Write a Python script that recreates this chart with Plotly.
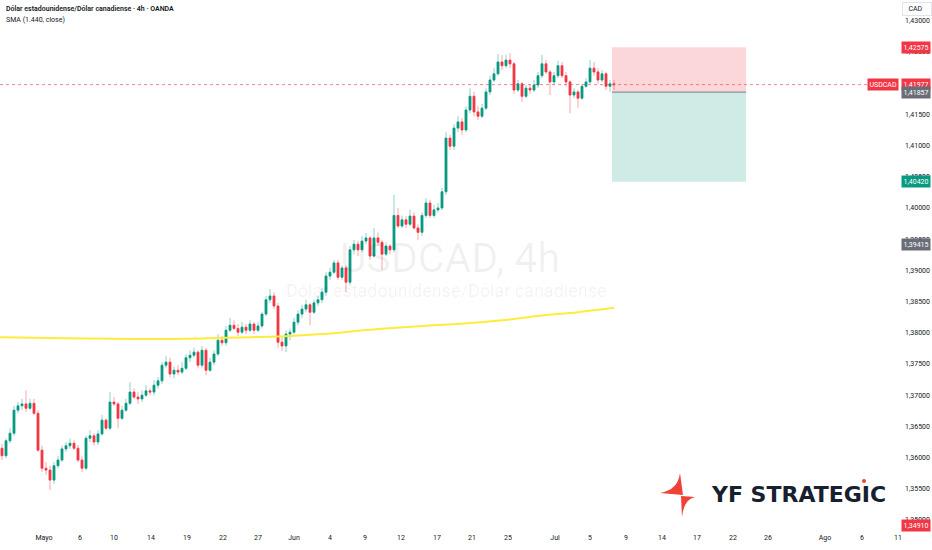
import plotly.graph_objects as go

# USDCAD 4h candles (left to right)
opens = [1.3615, 1.3603, 1.3627, 1.3639, 1.3676, 1.3683, 1.3686, 1.3679, 1.3687, 1.3671,
         1.3612, 1.3583, 1.3580, 1.3564, 1.3587, 1.3596, 1.3614, 1.3619, 1.3623, 1.3615,
         1.3596, 1.3583, 1.3631, 1.3635, 1.3625, 1.3638, 1.3660, 1.3647, 1.3689, 1.3686,
         1.3663, 1.3676, 1.3687, 1.3705, 1.3697, 1.3694, 1.3700, 1.3707, 1.3705, 1.3716,
         1.3723, 1.3748, 1.3753, 1.3734, 1.3740, 1.3737, 1.3743, 1.3760, 1.3764, 1.3769,
         1.3748, 1.3772, 1.3740, 1.3753, 1.3766, 1.3788, 1.3784, 1.3804, 1.3812, 1.3807,
         1.3801, 1.3809, 1.3804, 1.3814, 1.3804, 1.3811, 1.3830, 1.3853, 1.3859, 1.3843,
         1.3785, 1.3779, 1.3798, 1.3801, 1.3817, 1.3830, 1.3838, 1.3845, 1.3833, 1.3848,
         1.3853, 1.3865, 1.3891, 1.3897, 1.3912, 1.3889, 1.3904, 1.3881, 1.3933, 1.3942,
         1.3933, 1.3947, 1.3952, 1.3923, 1.3952, 1.3945, 1.3926, 1.3939, 1.3933, 1.3988,
         1.3971, 1.3981, 1.3974, 1.3987, 1.3968, 1.3961, 1.3988, 1.4008, 1.3988, 1.3997,
         1.4000, 1.4026, 1.4112, 1.4099, 1.4128, 1.4138, 1.4125, 1.4157, 1.4179, 1.4154,
         1.4147, 1.4160, 1.4186, 1.4205, 1.4215, 1.4234, 1.4228, 1.4237, 1.4231, 1.4189,
         1.4199, 1.4179, 1.4192, 1.4189, 1.4197, 1.4212, 1.4231, 1.4218, 1.4202, 1.4212,
         1.4228, 1.4212, 1.4202, 1.4181, 1.4186, 1.4176, 1.4195, 1.4202, 1.4224, 1.4218,
         1.4205, 1.4215, 1.4195, 1.4199]
highs = [1.3622, 1.3631, 1.3647, 1.3683, 1.3689, 1.3694, 1.3708, 1.3694, 1.3694, 1.3676,
         1.3619, 1.3593, 1.3587, 1.3593, 1.3603, 1.3619, 1.3625, 1.3631, 1.3628, 1.3620,
         1.3603, 1.3635, 1.3644, 1.3639, 1.3644, 1.3668, 1.3663, 1.3705, 1.3697, 1.3689,
         1.3683, 1.3694, 1.3721, 1.3711, 1.3705, 1.3708, 1.3716, 1.3711, 1.3724, 1.3729,
         1.3753, 1.3763, 1.3760, 1.3746, 1.3748, 1.3753, 1.3766, 1.3772, 1.3776, 1.3772,
         1.3779, 1.3776, 1.3760, 1.3772, 1.3798, 1.3795, 1.3811, 1.3824, 1.3820, 1.3814,
         1.3817, 1.3814, 1.3820, 1.3817, 1.3817, 1.3833, 1.3859, 1.3870, 1.3865, 1.3848,
         1.3795, 1.3804, 1.3807, 1.3824, 1.3836, 1.3845, 1.3853, 1.3848, 1.3853, 1.3859,
         1.3872, 1.3897, 1.3904, 1.3917, 1.3917, 1.3908, 1.3908, 1.3939, 1.3949, 1.3947,
         1.3955, 1.3960, 1.3955, 1.3968, 1.3961, 1.3949, 1.3945, 1.3942, 1.4021, 1.4000,
         1.3988, 1.3987, 1.3997, 1.3993, 1.3974, 1.3993, 1.4016, 1.4013, 1.4005, 1.4008,
         1.4032, 1.4122, 1.4117, 1.4134, 1.4147, 1.4144, 1.4163, 1.4192, 1.4186, 1.4163,
         1.4167, 1.4192, 1.4212, 1.4224, 1.4247, 1.4245, 1.4245, 1.4248, 1.4234, 1.4205,
         1.4202, 1.4197, 1.4199, 1.4205, 1.4218, 1.4245, 1.4237, 1.4221, 1.4218, 1.4236,
         1.4234, 1.4218, 1.4205, 1.4192, 1.4189, 1.4199, 1.4208, 1.4237, 1.4234, 1.4224,
         1.4221, 1.4218, 1.4205, 1.4205]
lows = [1.3596, 1.3599, 1.3623, 1.3635, 1.3671, 1.3676, 1.3673, 1.3676, 1.3668, 1.3609,
        1.3577, 1.3572, 1.3548, 1.3558, 1.3583, 1.3593, 1.3609, 1.3614, 1.3612, 1.3593,
        1.3577, 1.3580, 1.3625, 1.3619, 1.3620, 1.3635, 1.3644, 1.3644, 1.3683, 1.3647,
        1.3660, 1.3673, 1.3684, 1.3694, 1.3686, 1.3689, 1.3697, 1.3700, 1.3700, 1.3711,
        1.3718, 1.3743, 1.3729, 1.3727, 1.3732, 1.3734, 1.3740, 1.3753, 1.3760, 1.3743,
        1.3743, 1.3732, 1.3737, 1.3748, 1.3763, 1.3779, 1.3779, 1.3801, 1.3804, 1.3795,
        1.3798, 1.3798, 1.3801, 1.3798, 1.3801, 1.3807, 1.3827, 1.3848, 1.3838, 1.3776,
        1.3771, 1.3769, 1.3788, 1.3798, 1.3812, 1.3824, 1.3833, 1.3812, 1.3830, 1.3843,
        1.3848, 1.3859, 1.3885, 1.3894, 1.3885, 1.3885, 1.3865, 1.3876, 1.3926, 1.3923,
        1.3929, 1.3942, 1.3917, 1.3920, 1.3939, 1.3901, 1.3923, 1.3926, 1.3929, 1.3968,
        1.3968, 1.3968, 1.3971, 1.3965, 1.3949, 1.3955, 1.3984, 1.3984, 1.3984, 1.3993,
        1.3997, 1.4021, 1.4093, 1.4093, 1.4122, 1.4117, 1.4122, 1.4152, 1.4147, 1.4141,
        1.4144, 1.4157, 1.4181, 1.4202, 1.4212, 1.4221, 1.4224, 1.4224, 1.4183, 1.4186,
        1.4170, 1.4176, 1.4183, 1.4186, 1.4192, 1.4208, 1.4215, 1.4181, 1.4197, 1.4208,
        1.4208, 1.4195, 1.4152, 1.4176, 1.4160, 1.4173, 1.4192, 1.4199, 1.4212, 1.4199,
        1.4202, 1.4189, 1.4186, 1.4189]
closes = [1.3603, 1.3627, 1.3639, 1.3676, 1.3683, 1.3686, 1.3679, 1.3687, 1.3671, 1.3612,
          1.3583, 1.3580, 1.3564, 1.3587, 1.3596, 1.3614, 1.3619, 1.3623, 1.3615, 1.3596,
          1.3583, 1.3631, 1.3635, 1.3625, 1.3638, 1.3660, 1.3647, 1.3689, 1.3686, 1.3663,
          1.3676, 1.3687, 1.3705, 1.3697, 1.3694, 1.3700, 1.3707, 1.3705, 1.3716, 1.3723,
          1.3748, 1.3753, 1.3734, 1.3740, 1.3737, 1.3743, 1.3760, 1.3764, 1.3769, 1.3748,
          1.3772, 1.3740, 1.3753, 1.3766, 1.3788, 1.3784, 1.3804, 1.3812, 1.3807, 1.3801,
          1.3809, 1.3804, 1.3814, 1.3804, 1.3811, 1.3830, 1.3853, 1.3859, 1.3843, 1.3785,
          1.3779, 1.3798, 1.3801, 1.3817, 1.3830, 1.3838, 1.3845, 1.3833, 1.3848, 1.3853,
          1.3865, 1.3891, 1.3897, 1.3912, 1.3889, 1.3904, 1.3881, 1.3933, 1.3942, 1.3933,
          1.3947, 1.3952, 1.3923, 1.3952, 1.3945, 1.3926, 1.3939, 1.3933, 1.3988, 1.3971,
          1.3981, 1.3974, 1.3987, 1.3968, 1.3961, 1.3988, 1.4008, 1.3988, 1.3997, 1.4000,
          1.4026, 1.4112, 1.4099, 1.4128, 1.4138, 1.4125, 1.4157, 1.4179, 1.4154, 1.4147,
          1.4160, 1.4186, 1.4205, 1.4215, 1.4234, 1.4228, 1.4237, 1.4231, 1.4189, 1.4199,
          1.4179, 1.4192, 1.4189, 1.4197, 1.4212, 1.4231, 1.4218, 1.4202, 1.4212, 1.4228,
          1.4212, 1.4202, 1.4181, 1.4186, 1.4176, 1.4195, 1.4202, 1.4224, 1.4218, 1.4205,
          1.4215, 1.4195, 1.4199, 1.41977]
bars = list(range(len(closes)))

# SMA(1440) readings at a few bars
sma_bars = [-0.5, 20, 37, 50, 62, 72, 80, 94, 105, 114, 125, 134, 144, 153]
sma_vals = [1.3793, 1.3791, 1.3790, 1.3791, 1.3793, 1.3795, 1.3798, 1.3806, 1.3811,
            1.3814, 1.3820, 1.3827, 1.3833, 1.3840]

# time axis labels (bar positions)
tick_bars = [10.5, 19.5, 28, 37.25, 46.25, 55.25, 64, 73, 82, 90.75, 99.75, 108.75, 117.5,
             126.5, 138.25, 147, 156, 165, 173.75, 182.75, 191.5, 205.75, 215, 224]
tick_text = ["Mayo", "6", "10", "14", "19", "22", "27", "Jun", "4", "9", "12", "17", "21",
             "25", "Jul", "5", "9", "14", "17", "22", "26", "Ago", "6", "11"]

price_ticks = [1.350 + 0.005 * k for k in range(17)]

# position tool
entry = 1.41857
stop = 1.42575
target = 1.40420
pos_start, pos_end = 152.5, 186
last_price = 1.41977

UP = "#089981"
DOWN = "#F23645"
W, H = 900, 532  # plot area in px


def px(x, y):
    return x / W, 1 - y / H


fig = go.Figure()

# wicks (lighter)
fig.add_trace(go.Candlestick(
    x=bars, open=opens, high=highs, low=lows, close=closes,
    increasing=dict(line=dict(color="rgba(8,153,129,0.45)", width=1), fillcolor="rgba(0,0,0,0)"),
    decreasing=dict(line=dict(color="rgba(242,54,69,0.45)", width=1), fillcolor="rgba(0,0,0,0)"),
    hoverinfo="skip", showlegend=False))
# bodies
fig.add_trace(go.Candlestick(
    x=bars, open=opens, close=closes,
    high=[max(o, c) for o, c in zip(opens, closes)],
    low=[min(o, c) for o, c in zip(opens, closes)],
    increasing=dict(line=dict(color=UP, width=0.5), fillcolor=UP),
    decreasing=dict(line=dict(color=DOWN, width=0.5), fillcolor=DOWN),
    showlegend=False))

fig.add_trace(go.Scatter(x=sma_bars, y=sma_vals, mode="lines",
                         line=dict(color="#FFEB3B", width=2, shape="spline"),
                         hoverinfo="skip", showlegend=False))

shapes = [
    dict(type="rect", xref="x", yref="y", x0=pos_start, x1=pos_end, y0=entry, y1=stop,
         fillcolor="rgba(242,54,69,0.2)", line=dict(width=0), layer="below"),
    dict(type="rect", xref="x", yref="y", x0=pos_start, x1=pos_end, y0=target, y1=entry,
         fillcolor="rgba(8,153,129,0.2)", line=dict(width=0), layer="below"),
    dict(type="line", xref="x", yref="y", x0=pos_start, x1=pos_end, y0=entry, y1=entry,
         line=dict(color="#787B86", width=1)),
    dict(type="line", xref="paper", yref="y", x0=0, x1=0.968, y0=last_price, y1=last_price,
         line=dict(color=DOWN, width=1, dash="dot"), opacity=0.6),
]


# logo icon
def path(points):
    s = ""
    for cmd, pts in points:
        s += cmd + " ".join("%.5f,%.5f" % px(a, b) for a, b in pts) + " "
    return s + "Z"


shapes.append(dict(type="path", xref="paper", yref="paper", line=dict(width=0), fillcolor="#EF4136",
                   path=path([("M", [(680, 473)]), ("Q", [(678, 490), (660, 493)]), ("L", [(683, 495)])])))
shapes.append(dict(type="path", xref="paper", yref="paper", line=dict(width=0), fillcolor="#EF4136",
                   path=path([("M", [(695, 497)]), ("Q", [(684, 499), (682, 517)]), ("L", [(681, 496)])])))
dx0, dy0 = px(862, 479)
dx1, dy1 = px(866, 483)
shapes.append(dict(type="circle", xref="paper", yref="paper", x0=dx0, x1=dx1, y0=dy1, y1=dy0,
                   fillcolor="#EF4136", line=dict(width=0)))

font = "Roboto"
ann = []
tx, ty = px(4, 9)
ann.append(dict(xref="paper", yref="paper", x=tx, y=ty, xanchor="left", yanchor="middle",
                text="Dólar estadounidense/Dólar canadiense · 4h · OANDA", showarrow=False,
                font=dict(family=font, size=7, color="#131722", weight=600)))
tx, ty = px(4, 20)
ann.append(dict(xref="paper", yref="paper", x=tx, y=ty, xanchor="left", yanchor="middle",
                text="SMA (1.440, close)", showarrow=False,
                font=dict(family=font, size=7, color="#131722")))
tx, ty = px(450, 258)
ann.append(dict(xref="paper", yref="paper", x=tx, y=ty, text="USDCAD, 4h", showarrow=False,
                font=dict(family=font, size=41, color="rgba(19,23,34,0.06)")))
tx, ty = px(446, 290)
ann.append(dict(xref="paper", yref="paper", x=tx, y=ty, text="Dólar estadounidense/Dólar canadiense",
                showarrow=False, font=dict(family=font, size=18, color="rgba(19,23,34,0.06)")))
tx, ty = px(709, 494)
ann.append(dict(xref="paper", yref="paper", x=tx, y=ty, xanchor="left", yanchor="middle",
                text="YF STRATEGIC", showarrow=False,
                font=dict(family="DejaVu Sans", size=22, color="#16202E", weight="bold")))

badges = [(stop, DOWN), (last_price, DOWN), (entry, "#6A6D78"), (target, UP),
          (1.39415, "#6A6D78"), (1.34910, DOWN)]
for val, col in badges:
    ann.append(dict(xref="paper", yref="y", x=1, y=val, xanchor="left", yanchor="middle",
                    xshift=1, text=("%.5f" % val).replace(".", ","), showarrow=False,
                    bgcolor=col, borderpad=1.5, font=dict(family=font, size=7, color="white")))
ann.append(dict(xref="paper", yref="y", x=1, y=last_price, xanchor="right", yanchor="middle",
                xshift=-1, text="USDCAD", showarrow=False, bgcolor=DOWN, borderpad=1.5,
                font=dict(family=font, size=7, color="white")))
tx, ty = px(900, 9)
ann.append(dict(xref="paper", yref="paper", x=1, y=ty, xanchor="left", yanchor="middle",
                xshift=2, text="  CAD    ", showarrow=False, bgcolor="white",
                bordercolor="#E0E3EB", borderwidth=1, borderpad=2,
                font=dict(family=font, size=7, color="#131722")))

fig.update_layout(
    width=932, height=550,
    margin=dict(l=0, r=32, t=0, b=18),
    paper_bgcolor="white", plot_bgcolor="white",
    shapes=shapes, annotations=ann,
    xaxis=dict(range=[-0.5, 224.5], rangeslider=dict(visible=False), showgrid=False,
               zeroline=False, tickmode="array", tickvals=tick_bars, ticktext=tick_text,
               ticks="", tickfont=dict(family=font, size=7, color="#131722")),
    yaxis=dict(range=[1.34808, 1.43333], side="right", showgrid=False, zeroline=False,
               tickmode="array", tickvals=price_ticks,
               ticktext=[("%.5f" % v).replace(".", ",") for v in price_ticks],
               ticks="", ticklabelstandoff=4,
               tickfont=dict(family=font, size=7, color="#131722")),
)

# the page's default 8px body margin would push the 932x550 figure off the window
fig.write_html("out.html", config={"displayModeBar": False},
               post_script="document.body.style.margin='0';")
